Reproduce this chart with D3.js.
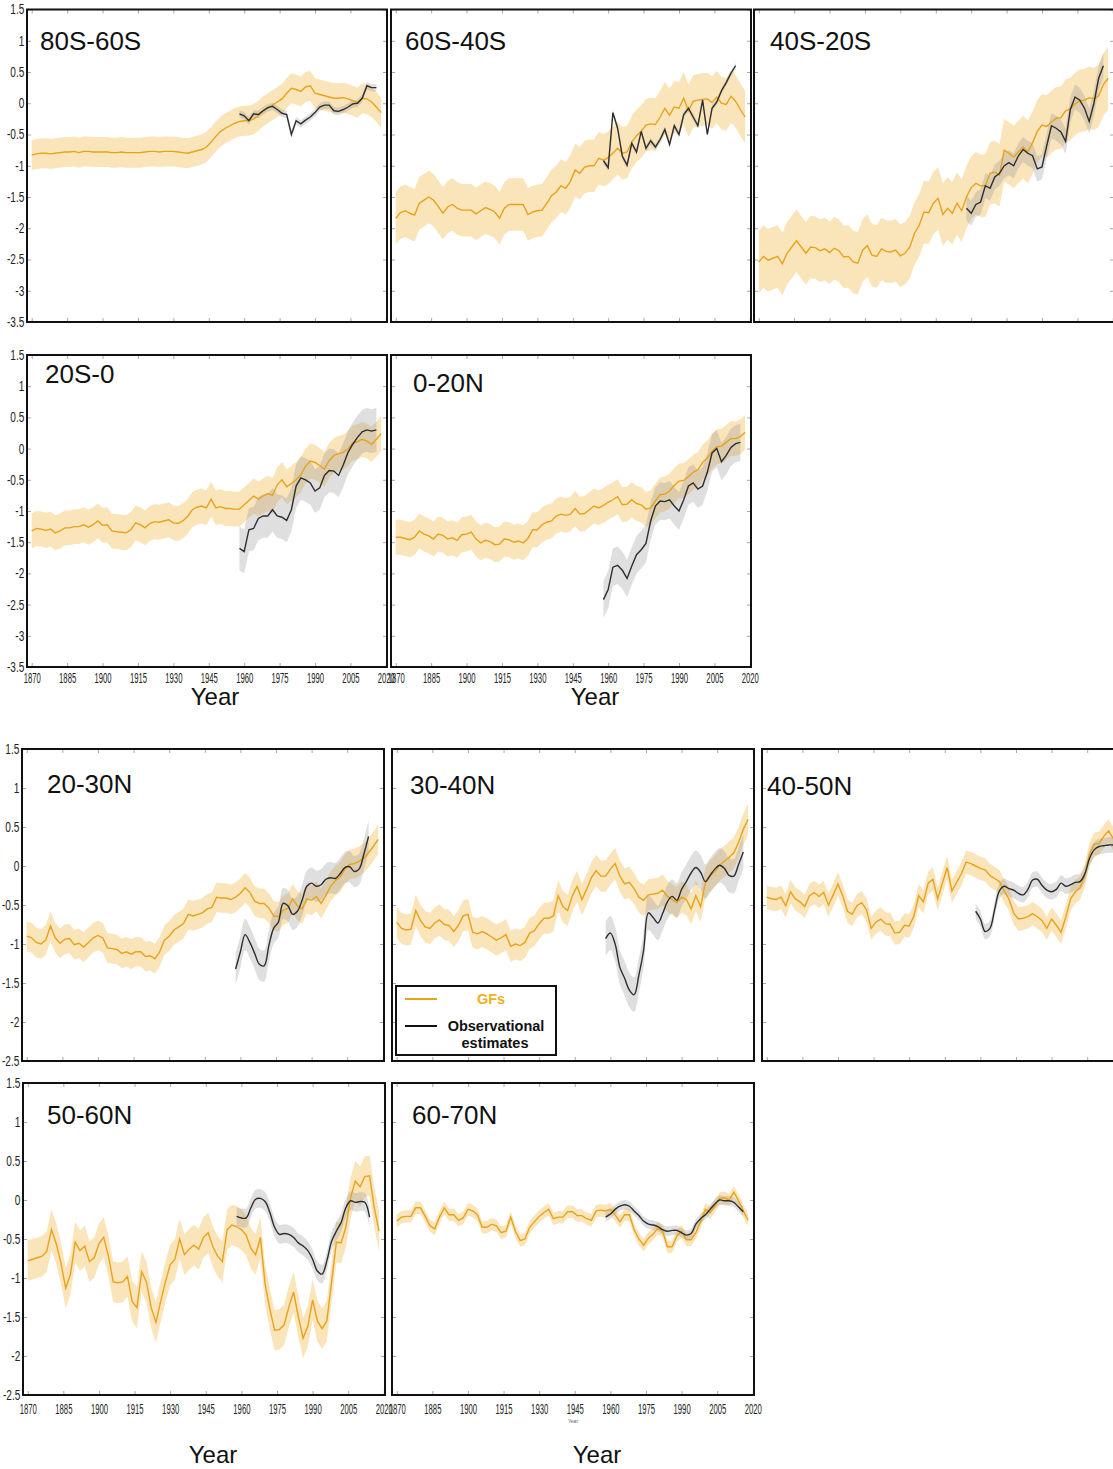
<!DOCTYPE html>
<html>
<head>
<meta charset="utf-8">
<script src="https://cdn.jsdelivr.net/npm/d3@7"></script>
<style>
  body { margin: 0; background: #fff; }
  svg { display: block; }
</style>
</head>
<body>
<svg id="chart" width="1113" height="1469"></svg>
<script>
// ---- data -------------------------------------------------------------
const gfYears = [1870,1872,1874,1876,1878,1880,1882,1884,1886,1888,
                 1890,1892,1894,1896,1898,1900,1902,1904,1906,1908,
                 1910,1912,1914,1916,1918,1920,1922,1924,1926,1928,
                 1930,1932,1934,1936,1938,1940,1942,1944,1946,1948,
                 1950,1952,1954,1956,1958,1960,1962,1964,1966,1968,
                 1970,1972,1974,1976,1978,1980,1982,1984,1986,1988,
                 1990,1992,1994,1996,1998,2000,2002,2004,2006,2008,
                 2010,2012,2014,2016,2018];
const obsYears = [1958,1960,1962,1964,1966,1968,1970,1972,1974,1976,
                  1978,1980,1982,1984,1986,1988,1990,1992,1994,1996,
                  1998,2000,2002,2004,2006,2008,2010,2012,2014,2016];

const regionNames = ["80S-60S","60S-40S","40S-20S","20S-0","0-20N",
                     "20-30N","30-40N","40-50N","50-60N","60-70N"];

const yearTicks = [1870,1885,1900,1915,1930,1945,1960,1975,1990,2005,2020];
const yTicksSouth = [1.5,1,0.5,0,-0.5,-1,-1.5,-2,-2.5,-3,-3.5];
const yTicksNorth = [1.5,1,0.5,0,-0.5,-1,-1.5,-2,-2.5];

// GF reconstructions (central estimate)
const gf80S60S = [-0.83,-0.81,-0.80,-0.80,-0.81,-0.80,-0.79,-0.78,-0.78,-0.77,
                  -0.79,-0.77,-0.77,-0.78,-0.78,-0.78,-0.78,-0.79,-0.79,-0.78,
                  -0.79,-0.79,-0.79,-0.79,-0.78,-0.77,-0.77,-0.78,-0.77,-0.77,
                  -0.77,-0.78,-0.79,-0.80,-0.78,-0.76,-0.74,-0.70,-0.62,-0.53,
                  -0.45,-0.40,-0.36,-0.32,-0.29,-0.28,-0.28,-0.25,-0.20,-0.13,
                  -0.08,-0.03,0.02,0.07,0.16,0.24,0.22,0.19,0.26,0.28,
                  0.16,0.14,0.12,0.10,0.08,0.08,0.09,0.07,0.04,0.01,
                  0.08,0.07,0.02,-0.06,-0.15];
const gf60S40S = [-1.84,-1.75,-1.72,-1.76,-1.79,-1.60,-1.55,-1.50,-1.55,-1.65,
                  -1.76,-1.66,-1.62,-1.68,-1.71,-1.71,-1.71,-1.77,-1.72,-1.67,
                  -1.70,-1.74,-1.84,-1.68,-1.62,-1.62,-1.62,-1.62,-1.78,-1.74,
                  -1.72,-1.71,-1.60,-1.48,-1.42,-1.32,-1.36,-1.25,-1.07,-1.12,
                  -1.02,-1.00,-1.00,-0.88,-0.91,-0.87,-0.80,-0.72,-0.80,-0.78,
                  -0.62,-0.52,-0.45,-0.35,-0.33,-0.34,-0.22,-0.08,-0.19,-0.06,
                  -0.08,0.08,-0.12,0.03,0.05,0.06,0.07,0.01,0.10,0.00,
                  -0.02,0.11,0.03,-0.10,-0.22];
const gf40S20S = [-2.54,-2.45,-2.51,-2.48,-2.45,-2.57,-2.40,-2.30,-2.20,-2.30,
                  -2.40,-2.30,-2.31,-2.36,-2.33,-2.39,-2.32,-2.36,-2.46,-2.45,
                  -2.54,-2.56,-2.35,-2.28,-2.43,-2.45,-2.33,-2.37,-2.38,-2.35,
                  -2.44,-2.40,-2.30,-2.08,-1.95,-1.74,-1.75,-1.60,-1.52,-1.78,
                  -1.68,-1.76,-1.60,-1.72,-1.50,-1.35,-1.28,-1.32,-1.32,-1.12,
                  -1.10,-1.15,-0.75,-0.80,-0.86,-0.78,-0.70,-0.78,-0.63,-0.45,
                  -0.35,-0.37,-0.30,-0.24,-0.23,-0.12,-0.09,-0.01,0.04,0.05,
                  0.09,0.07,0.12,0.30,0.40];
const gf20S0 = [-1.32,-1.28,-1.29,-1.31,-1.29,-1.35,-1.32,-1.27,-1.27,-1.25,
                -1.25,-1.22,-1.26,-1.22,-1.16,-1.23,-1.22,-1.32,-1.33,-1.34,
                -1.35,-1.30,-1.19,-1.22,-1.27,-1.20,-1.17,-1.18,-1.16,-1.14,
                -1.19,-1.20,-1.16,-1.09,-0.98,-0.94,-0.92,-0.95,-0.81,-0.95,
                -0.93,-0.96,-0.96,-0.97,-0.97,-0.90,-0.83,-0.76,-0.81,-0.76,
                -0.72,-0.75,-0.58,-0.50,-0.61,-0.56,-0.50,-0.42,-0.28,-0.20,
                -0.22,-0.27,-0.33,-0.19,-0.11,-0.08,-0.06,0.00,0.09,0.11,
                0.15,0.12,0.07,0.15,0.24];
const gf0N20N = [-1.42,-1.42,-1.44,-1.46,-1.42,-1.32,-1.37,-1.40,-1.45,-1.37,
                 -1.39,-1.45,-1.43,-1.47,-1.38,-1.37,-1.34,-1.45,-1.51,-1.47,
                 -1.49,-1.54,-1.53,-1.45,-1.46,-1.50,-1.48,-1.51,-1.44,-1.30,
                 -1.30,-1.22,-1.18,-1.16,-1.08,-1.05,-1.07,-1.05,-0.96,-1.05,
                 -1.04,-0.98,-0.92,-0.95,-0.91,-0.86,-0.82,-0.77,-0.90,-0.89,
                 -0.82,-0.88,-0.90,-0.97,-0.95,-0.84,-0.74,-0.73,-0.68,-0.59,
                 -0.52,-0.51,-0.45,-0.38,-0.34,-0.22,-0.15,-0.04,0.03,0.04,
                 0.10,0.16,0.16,0.19,0.26];
const gf20N30N = [-0.90,-0.92,-0.98,-1.00,-0.95,-0.77,-0.92,-0.99,-0.94,-0.93,
                  -1.01,-0.99,-1.04,-0.98,-0.92,-0.89,-0.92,-1.05,-1.06,-1.07,
                  -1.12,-1.10,-1.13,-1.10,-1.10,-1.16,-1.15,-1.19,-1.10,-0.95,
                  -0.90,-0.82,-0.78,-0.74,-0.62,-0.64,-0.62,-0.60,-0.55,-0.53,
                  -0.40,-0.41,-0.41,-0.43,-0.40,-0.35,-0.28,-0.34,-0.45,-0.48,
                  -0.48,-0.54,-0.64,-0.65,-0.57,-0.54,-0.42,-0.51,-0.55,-0.42,
                  -0.44,-0.39,-0.48,-0.38,-0.26,-0.19,-0.14,-0.04,0.02,0.03,
                  0.06,0.10,0.17,0.25,0.34];
const gf30N40N = [-0.72,-0.80,-0.82,-0.81,-0.57,-0.70,-0.78,-0.80,-0.73,-0.69,
                  -0.75,-0.76,-0.84,-0.76,-0.64,-0.62,-0.85,-0.87,-0.84,-0.87,
                  -0.91,-0.95,-0.92,-0.88,-1.03,-1.00,-1.02,-0.98,-0.86,-0.83,
                  -0.74,-0.67,-0.67,-0.64,-0.38,-0.52,-0.57,-0.38,-0.26,-0.43,
                  -0.30,-0.15,-0.06,-0.13,-0.13,-0.04,0.03,-0.13,-0.23,-0.21,
                  -0.29,-0.40,-0.44,-0.37,-0.36,-0.35,-0.31,-0.39,-0.43,-0.47,
                  -0.40,-0.43,-0.55,-0.38,-0.52,-0.22,-0.13,-0.07,0.01,0.06,
                  0.11,0.17,0.30,0.47,0.60];
const gf40N50N = [-0.40,-0.42,-0.43,-0.40,-0.51,-0.33,-0.42,-0.46,-0.52,-0.38,
                  -0.34,-0.39,-0.34,-0.50,-0.37,-0.23,-0.38,-0.58,-0.62,-0.51,
                  -0.47,-0.56,-0.80,-0.72,-0.68,-0.74,-0.75,-0.86,-0.85,-0.76,
                  -0.77,-0.64,-0.38,-0.46,-0.22,-0.17,-0.42,-0.22,-0.02,-0.32,
                  -0.21,-0.10,0.05,0.03,0.00,-0.03,-0.05,-0.12,-0.16,-0.20,
                  -0.32,-0.42,-0.60,-0.68,-0.67,-0.65,-0.61,-0.65,-0.70,-0.80,
                  -0.68,-0.76,-0.85,-0.65,-0.42,-0.33,-0.28,-0.12,0.15,0.28,
                  0.29,0.38,0.45,0.35,0.25];
const gf50N60N = [-0.78,-0.76,-0.74,-0.72,-0.66,-0.38,-0.56,-0.81,-1.13,-0.95,
                  -0.54,-0.65,-0.59,-0.79,-0.74,-0.56,-0.48,-0.72,-1.05,-1.06,
                  -1.05,-0.98,-1.30,-1.38,-0.92,-1.05,-1.38,-1.57,-1.30,-1.05,
                  -0.83,-0.76,-0.50,-0.70,-0.63,-0.58,-0.63,-0.48,-0.42,-0.60,
                  -0.72,-0.79,-0.38,-0.32,-0.34,-0.38,-0.45,-0.62,-0.70,-0.48,
                  -1.08,-1.40,-1.67,-1.66,-1.60,-1.37,-1.18,-1.50,-1.77,-1.62,
                  -1.28,-1.55,-1.65,-1.55,-1.05,-0.54,-0.55,-0.35,0.03,0.24,
                  0.17,0.30,0.31,-0.10,-0.40];
const gf60N70N = [-0.27,-0.22,-0.21,-0.21,-0.10,-0.10,-0.21,-0.33,-0.37,-0.22,
                  -0.10,-0.19,-0.19,-0.26,-0.23,-0.12,-0.14,-0.19,-0.35,-0.35,
                  -0.31,-0.33,-0.42,-0.40,-0.22,-0.40,-0.52,-0.50,-0.35,-0.28,
                  -0.21,-0.16,-0.12,-0.24,-0.22,-0.22,-0.15,-0.15,-0.20,-0.20,
                  -0.24,-0.26,-0.14,-0.13,-0.14,-0.12,-0.19,-0.28,-0.19,-0.19,
                  -0.38,-0.50,-0.58,-0.49,-0.44,-0.36,-0.40,-0.60,-0.60,-0.46,
                  -0.40,-0.51,-0.51,-0.42,-0.28,-0.12,-0.16,-0.08,0.02,0.03,
                  0.00,0.10,-0.01,-0.14,-0.26];

// Observational estimates
const obs80S60S = [-0.17,-0.20,-0.28,-0.17,-0.18,-0.12,-0.07,-0.05,-0.10,-0.16,
                   -0.18,-0.50,-0.28,-0.33,-0.27,-0.22,-0.15,-0.06,-0.03,-0.03,
                   -0.12,-0.13,-0.10,-0.06,-0.01,0.00,0.08,0.28,0.25,0.25];
const obs60S40S = [-0.92,-1.03,-0.15,-0.40,-0.85,-0.99,-0.64,-0.78,-0.45,-0.72,
                   -0.60,-0.70,-0.58,-0.42,-0.66,-0.36,-0.50,-0.18,-0.08,-0.22,
                   -0.36,0.05,-0.50,-0.08,0.02,0.20,0.33,0.48,0.60,null];
const obs40S20S = [-1.68,-1.76,-1.62,-1.58,-1.32,-1.36,-1.18,-1.12,-1.00,-0.95,
                   -1.00,-0.84,-0.74,-0.80,-0.84,-1.05,-1.02,-0.68,-0.36,-0.40,
                   -0.46,-0.61,-0.10,0.10,0.05,-0.08,-0.29,0.00,0.40,0.60];
const obs20S0 = [-1.60,-1.65,-1.30,-1.28,-1.12,-1.08,-1.08,-0.98,-1.08,-1.10,
                 -1.15,-0.98,-0.60,-0.47,-0.50,-0.55,-0.68,-0.63,-0.43,-0.35,
                 -0.36,-0.43,-0.26,-0.06,0.07,0.18,0.27,0.30,0.28,0.30];
const obs0N20N = [-2.42,-2.26,-1.90,-1.87,-1.95,-2.08,-1.88,-1.70,-1.62,-1.52,
                  -1.16,-0.92,-0.84,-0.85,-0.82,-0.92,-1.00,-0.82,-0.60,-0.55,
                  -0.65,-0.60,-0.38,-0.07,0.00,-0.21,-0.11,0.02,0.08,0.10];
const obs20N30N = [-1.32,-1.10,-0.88,-0.98,-1.12,-1.26,-1.28,-1.02,-0.80,-0.72,
                   -0.48,-0.51,-0.62,-0.58,-0.44,-0.26,-0.22,-0.26,-0.24,-0.17,
                   -0.15,-0.16,-0.10,-0.02,-0.01,-0.07,-0.04,0.15,0.38,null];
const obs30N40N = [-0.93,-0.86,-1.00,-1.30,-1.44,-1.59,-1.65,-1.40,-1.08,-0.60,
                   -0.66,-0.73,-0.61,-0.46,-0.39,-0.44,-0.30,-0.20,-0.09,-0.02,
                   -0.08,-0.20,-0.12,-0.04,0.01,-0.03,-0.12,-0.13,0.02,0.18];
const obs40N50N = [-0.58,-0.68,-0.84,-0.80,-0.56,-0.32,-0.26,-0.29,-0.31,-0.35,
                   -0.37,-0.30,-0.18,-0.17,-0.25,-0.31,-0.33,-0.30,-0.22,-0.26,
                   -0.24,-0.21,-0.20,-0.10,0.10,0.21,0.25,0.26,0.27,0.27];
const obs50N60N = [-0.21,-0.23,-0.23,-0.10,0.01,0.02,-0.02,-0.16,-0.35,-0.44,
                   -0.43,-0.44,-0.48,-0.55,-0.59,-0.65,-0.76,-0.91,-0.95,-0.78,
                   -0.53,-0.40,-0.29,-0.10,-0.01,-0.03,-0.02,-0.03,-0.22,null];
const obs60N70N = [-0.22,-0.18,-0.12,-0.08,-0.06,-0.08,-0.14,-0.20,-0.27,-0.31,
                   -0.32,-0.34,-0.38,-0.40,-0.39,-0.39,-0.42,-0.45,-0.43,-0.31,
                   -0.24,-0.19,-0.12,-0.05,0.00,-0.01,-0.01,-0.03,-0.09,-0.15];

// half-width of the uncertainty envelopes
const gfSpread  = [0.24, 0.42, 0.50, 0.28, 0.28, 0.19, 0.20, 0.15, 0.26, 0.08];
const obsSpread = [0.06, 0.05, 0.20, 0.35, 0.30, 0.20, 0.22, 0.10, 0.12, 0.06];

const gfSeries  = [gf80S60S, gf60S40S, gf40S20S, gf20S0, gf0N20N,
                   gf20N30N, gf30N40N, gf40N50N, gf50N60N, gf60N70N];
const obsSeries = [obs80S60S, obs60S40S, obs40S20S, obs20S0, obs0N20N,
                   obs20N30N, obs30N40N, obs40N50N, obs50N60N, obs60N70N];

// ---- layout -----------------------------------------------------------
const panels = [
  { x: 27,  y: 9.5,  w: 360, h: 312.5, dom: yTicksSouth, yLab: true,  xLab: 0, tx: 40,  ty: 50 },
  { x: 391, y: 9.5,  w: 360, h: 312.5, dom: yTicksSouth, yLab: false, xLab: 0, tx: 405, ty: 50 },
  { x: 754, y: 9.5,  w: 360, h: 312.5, dom: yTicksSouth, yLab: false, xLab: 0, tx: 770, ty: 50 },
  { x: 27,  y: 355,  w: 360, h: 312,   dom: yTicksSouth, yLab: true,  xLab: 6, tx: 45,  ty: 383 },
  { x: 391, y: 355,  w: 360, h: 312,   dom: yTicksSouth, yLab: false, xLab: 6, tx: 413, ty: 392 },
  { x: 22,  y: 749,  w: 362, h: 312,   dom: yTicksNorth, yLab: true,  xLab: 0, tx: 47,  ty: 793 },
  { x: 392, y: 749,  w: 362, h: 312,   dom: yTicksNorth, yLab: false, xLab: 0, tx: 410, ty: 794 },
  { x: 762, y: 749,  w: 362, h: 312,   dom: yTicksNorth, yLab: false, xLab: 0, tx: 767, ty: 795 },
  { x: 23,  y: 1083, w: 362, h: 312,   dom: yTicksNorth, yLab: true,  xLab: 9, tx: 47,  ty: 1124 },
  { x: 392, y: 1083, w: 362, h: 312,   dom: yTicksNorth, yLab: false, xLab: 9, tx: 412, ty: 1124 }
];

const GF_LINE = "#e8a31c";
const GF_BAND = "rgba(242,190,90,0.42)";
const OBS_LINE = "#2e2e2e";
const OBS_BAND = "rgba(150,150,150,0.3)";
const TICK = "#a8a8a8";

const svg = d3.select("#chart");

panels.forEach((p, i) => {
  const x = d3.scaleLinear().domain([1868, 2020.5]).range([p.x, p.x + p.w]);
  const y = d3.scaleLinear()
    .domain([d3.min(p.dom), d3.max(p.dom)])
    .range([p.y + p.h, p.y]);

  const g = svg.append("g").attr("class", "panel");

  const gf = gfYears.map((yr, k) => ({ yr, v: gfSeries[i][k] }));
  const ob = obsYears.map((yr, k) => ({ yr, v: obsSeries[i][k] }))
                     .filter(d => d.v !== null);
  const smoothObs = i >= 5;
  const obsCurve = smoothObs ? d3.curveCatmullRom.alpha(0.5) : d3.curveLinear;

  // envelopes
  g.append("path")
    .attr("d", d3.area()
      .x(d => x(d.yr))
      .y0(d => y(d.v - gfSpread[i]))
      .y1(d => y(d.v + gfSpread[i]))(gf))
    .attr("fill", GF_BAND);
  g.append("path")
    .attr("d", d3.area().curve(obsCurve)
      .x(d => x(d.yr))
      .y0(d => y(d.v - obsSpread[i]))
      .y1(d => y(d.v + obsSpread[i]))(ob))
    .attr("fill", OBS_BAND);

  // central lines
  g.append("path")
    .attr("d", d3.line().x(d => x(d.yr)).y(d => y(d.v))(gf))
    .attr("fill", "none").attr("stroke", GF_LINE).attr("stroke-width", 1.4);
  g.append("path")
    .attr("d", d3.line().curve(obsCurve).x(d => x(d.yr)).y(d => y(d.v))(ob))
    .attr("fill", "none").attr("stroke", OBS_LINE).attr("stroke-width", 1.4);

  // inward tick marks on all four sides
  const tickStyle = sel => {
    sel.select(".domain").remove();
    sel.selectAll("line").attr("stroke", TICK).attr("stroke-width", 1);
  };
  g.append("g").attr("transform", `translate(0,${p.y + p.h})`)
    .call(d3.axisTop(x).tickValues(yearTicks).tickSize(4).tickFormat(""))
    .call(tickStyle);
  g.append("g").attr("transform", `translate(0,${p.y})`)
    .call(d3.axisBottom(x).tickValues(yearTicks).tickSize(4).tickFormat(""))
    .call(tickStyle);
  g.append("g").attr("transform", `translate(${p.x},0)`)
    .call(d3.axisRight(y).tickValues(p.dom).tickSize(4).tickFormat(""))
    .call(tickStyle);
  g.append("g").attr("transform", `translate(${p.x + p.w},0)`)
    .call(d3.axisLeft(y).tickValues(p.dom).tickSize(4).tickFormat(""))
    .call(tickStyle);

  // frame
  g.append("rect")
    .attr("x", p.x).attr("y", p.y).attr("width", p.w).attr("height", p.h)
    .attr("fill", "none").attr("stroke", "#111").attr("stroke-width", 2);

  // value labels on the left column
  if (p.yLab) {
    const ya = g.append("g").attr("transform", `translate(${p.x - 2},0)`)
      .call(d3.axisLeft(y).tickValues(p.dom).tickSize(0).tickPadding(1)
        .tickFormat(d => String(d)));
    ya.select(".domain").remove();
    ya.selectAll("text")
      .attr("font-family", "'Liberation Sans', Arial, sans-serif")
      .attr("font-size", 14).attr("fill", "#222")
      .attr("transform", "scale(0.72,1)");
  }

  // year labels under the lower panels
  if (p.xLab) {
    const xa = g.append("g").attr("transform", `translate(0,${p.y + p.h})`)
      .call(d3.axisBottom(x).tickValues(yearTicks).tickSize(0).tickPadding(p.xLab)
        .tickFormat(d => String(d)));
    xa.select(".domain").remove();
    xa.selectAll("text")
      .attr("font-family", "'Liberation Sans', Arial, sans-serif")
      .attr("font-size", 14).attr("fill", "#222")
      .attr("transform", "scale(0.55,1)");
  }

  // region name
  g.append("text")
    .attr("x", p.tx).attr("y", p.ty)
    .attr("font-family", "'Liberation Sans', Arial, sans-serif")
    .attr("font-size", 26).attr("fill", "#111")
    .text(regionNames[i]);
});

// axis titles
const yearTitles = [[215, 705], [595, 705], [213, 1463], [597, 1463]];
yearTitles.forEach(([cx, by]) => {
  svg.append("text").attr("x", cx).attr("y", by)
    .attr("text-anchor", "middle")
    .attr("font-family", "'Liberation Sans', Arial, sans-serif")
    .attr("font-size", 24).attr("fill", "#111")
    .text("Year");
});
svg.append("text").attr("x", 573).attr("y", 1423)
  .attr("text-anchor", "middle")
  .attr("font-family", "'Liberation Sans', Arial, sans-serif")
  .attr("font-size", 5).attr("fill", "#666")
  .text("Year");

// legend
const lg = svg.append("g");
lg.append("rect").attr("x", 396).attr("y", 986).attr("width", 160).attr("height", 69)
  .attr("fill", "#fff").attr("stroke", "#111").attr("stroke-width", 2);
lg.append("line").attr("x1", 405).attr("x2", 437).attr("y1", 999).attr("y2", 999)
  .attr("stroke", GF_LINE).attr("stroke-width", 2);
lg.append("line").attr("x1", 405).attr("x2", 437).attr("y1", 1026).attr("y2", 1026)
  .attr("stroke", "#111").attr("stroke-width", 2);
const legendText = [
  ["GFs", 491, 1004, "#f0b020"],
  ["Observational", 496, 1031, "#111"],
  ["estimates", 495, 1048, "#111"]
];
legendText.forEach(([t, lx, ly, c]) => {
  lg.append("text").attr("x", lx).attr("y", ly)
    .attr("text-anchor", "middle")
    .attr("font-family", "'Liberation Sans', Arial, sans-serif")
    .attr("font-weight", "bold").attr("font-size", 14.5).attr("fill", c)
    .text(t);
});
</script>
</body>
</html>
